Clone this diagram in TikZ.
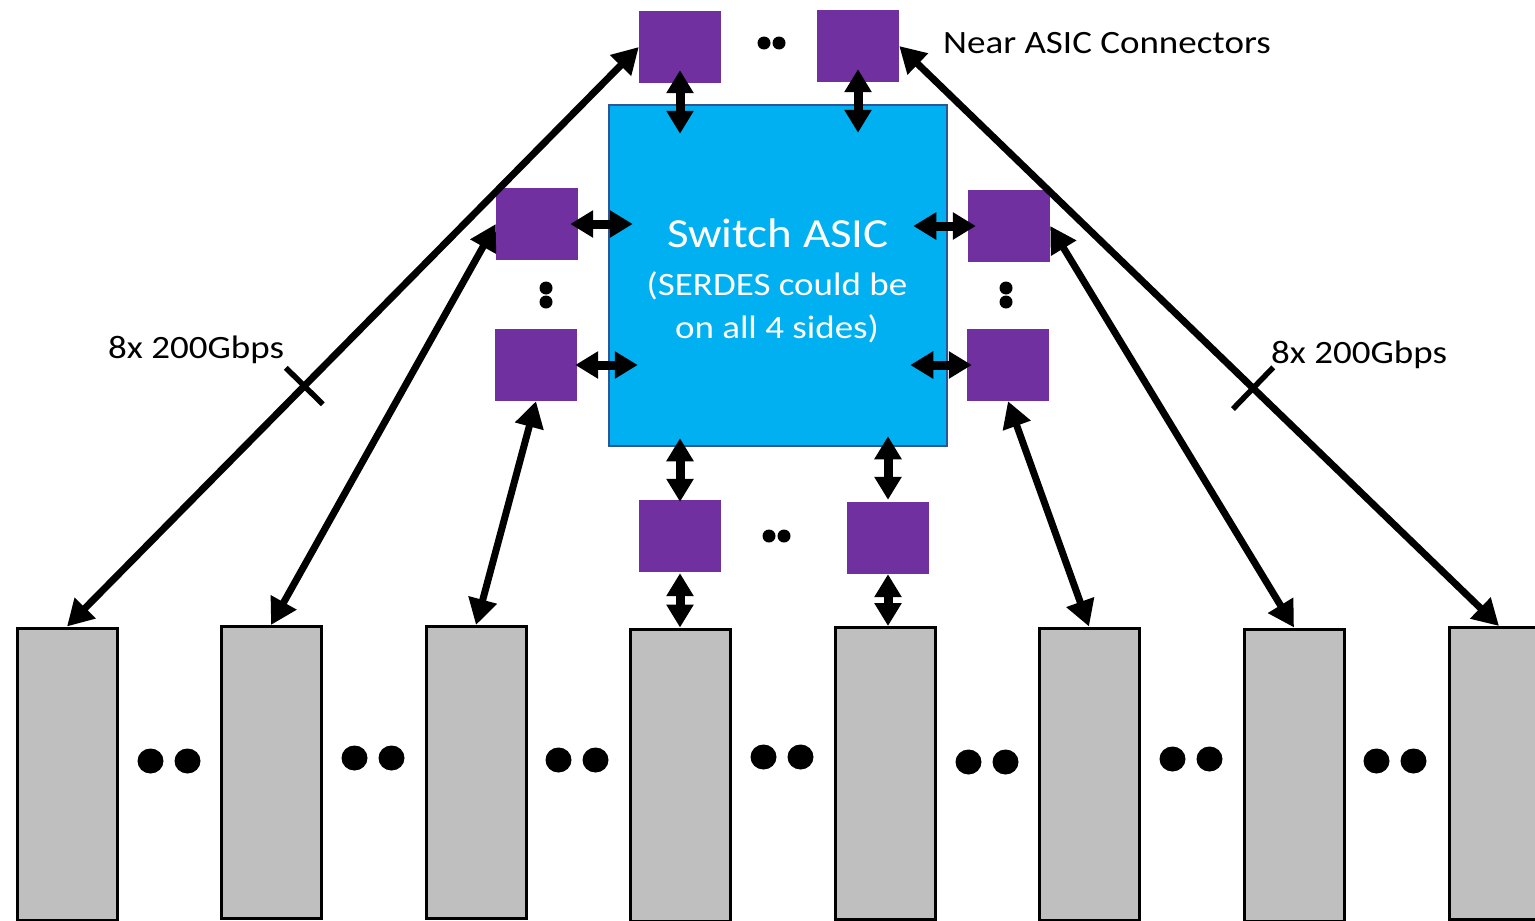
\documentclass[tikz,border=0pt]{standalone}
\usepackage{fontspec}
\setmainfont{Carlito}
\usetikzlibrary{arrows.meta,calc}
\definecolor{purp}{HTML}{7030A0}
\definecolor{asicblue}{HTML}{00B0F0}
\definecolor{asicedge}{HTML}{2F5597}
\definecolor{slotgray}{HTML}{BFBFBF}
\newcommand\vsq[1]{\scalebox{1}[0.88]{#1}}
\begin{document}
\begin{tikzpicture}[x=1pt,y=-1pt,
  pbox/.style={fill=purp, draw=none, inner sep=0pt, minimum width=82pt, minimum height=72pt},
  slot/.style={fill=slotgray, draw=black, line width=3pt, inner sep=0pt, minimum width=100pt, minimum height=292pt},
  asicbox/.style={fill=asicblue, draw=asicedge, line width=2.5pt, inner sep=0pt, minimum width=338pt, minimum height=341pt},
  dbl/.style={line width=9pt, {Triangle[length=23pt,width=26pt]}-{Triangle[length=23pt,width=26pt]}},
  link/.style={line width=7pt, {Triangle[length=26pt,width=28pt]}-{Triangle[length=26pt,width=28pt]}},
  tickline/.style={line width=5.5pt},
  lbl/.style={inner sep=0pt, font=\fontsize{37}{40}\selectfont},
  asictxt/.style={inner sep=0pt, text=white, anchor=base},
]
\useasboundingbox (0,0) rectangle (1535,921);

% switch ASIC
\node[asicbox] (asic) at (778,275.5) {};
\node[asictxt, font=\fontsize{47}{50}\selectfont] (sw1) at (778,247) {\vsq{Switch ASIC}};
\node[asictxt, font=\fontsize{37}{40}\selectfont] (sw2) at (777,295) {\vsq{(SERDES could be}};
\node[asictxt, font=\fontsize{37}{40}\selectfont] (sw3) at (777,338) {\vsq{on all 4 sides)}};

% near ASIC connectors
\node[pbox] (T1) at (680,47) {};
\node[pbox] (T2) at (858,46) {};
\node[pbox] (L1) at (537,224) {};
\node[pbox] (L2) at (536,365) {};
\node[pbox] (R1) at (1009,226) {};
\node[pbox] (R2) at (1008,365) {};
\node[pbox] (B1) at (680,536) {};
\node[pbox] (B2) at (888,538) {};

% slots
\node[slot] (G1) at (67,774) {};
\node[slot] (G2) at (271,772.5) {};
\node[slot] (G3) at (476,772.5) {};
\node[slot] (G4) at (680,775) {};
\node[slot] (G5) at (885,773.5) {};
\node[slot] (G6) at (1089,774) {};
\node[slot] (G7) at (1294,775) {};
\node[slot] (G8) at (1499,773.5) {};

% small dots
\fill (764,43) circle [radius=6.5pt];
\fill (779,43) circle [radius=6.5pt];
\fill (769,536) circle [radius=6.5pt];
\fill (784,536) circle [radius=6.5pt];
\fill (546,288) circle [radius=6.5pt];
\fill (546,302) circle [radius=6.5pt];
\fill (1006,288) circle [radius=6.5pt];
\fill (1006,302) circle [radius=6.5pt];

% big dots
\foreach \mx/\my in {169/761, 373/758, 577/760, 782/757, 987/762, 1191/759, 1395/761}{
  \fill (\mx-18.5,\my) ellipse [x radius=13pt, y radius=12.5pt];
  \fill (\mx+18.5,\my) ellipse [x radius=13pt, y radius=12.5pt];
}

% short links to the ASIC
\draw[dbl] ([yshift=13pt]T1.south) -- ([yshift=-30pt]T1.south |- asic.north);
\draw[dbl] ([yshift=13pt]T2.south) -- ([yshift=-29pt]T2.south |- asic.north);
\draw[dbl] ([xshift=-8pt]L1.east) -- ([xshift=25pt]L1.east -| asic.west);
\draw[dbl] ([xshift=-2pt]L2.east) -- ([xshift=30pt]L2.east -| asic.west);
\draw[dbl] ([xshift=-35pt]R1.west -| asic.east) -- ([xshift=8pt]R1.west);
\draw[dbl] ([xshift=-38pt]R2.west -| asic.east) -- ([xshift=5pt]R2.west);
\draw[dbl] ([yshift=9pt]B1.north |- asic.south) -- ([yshift=-2pt]B1.north);
\draw[dbl] ([yshift=11pt]B2.north |- asic.south) -- ([yshift=2pt]B2.north);
\draw[dbl] ([yshift=-1pt]B1.south) -- (B1.south |- G4.north);
\draw[dbl] (B2.south) -- (B2.south |- G5.north);

% long links
\draw[link] (G1.north) -- (T1.west) coordinate[pos=0.415] (tkl);
\draw[link] (G2.north) -- (L1.west);
\draw[link] (G3.north) -- (L2.south);
\draw[link] (G6.north) -- (R2.south);
\draw[link] (G7.north) -- (R1.east);
\draw[link] (G8.north) -- (T2.east) coordinate[pos=0.41] (tkr);

% ticks
\draw[tickline] ($(tkl)!26pt!90:(T1.west)$) -- ($(tkl)!26pt!-90:(T1.west)$);
\draw[tickline] ($(tkr)!29pt!90:(T2.east)$) -- ($(tkr)!29pt!-90:(T2.east)$);

% labels
\node[lbl, anchor=base west] (lblL) at (108,358) {\vsq{8x 200Gbps}};
\node[lbl, anchor=base west] (lblR) at (1271,363) {\vsq{8x 200Gbps}};
\node[lbl, anchor=base west] (lblN) at (943,53) {\vsq{Near ASIC Connectors}};
\end{tikzpicture}
\end{document}
